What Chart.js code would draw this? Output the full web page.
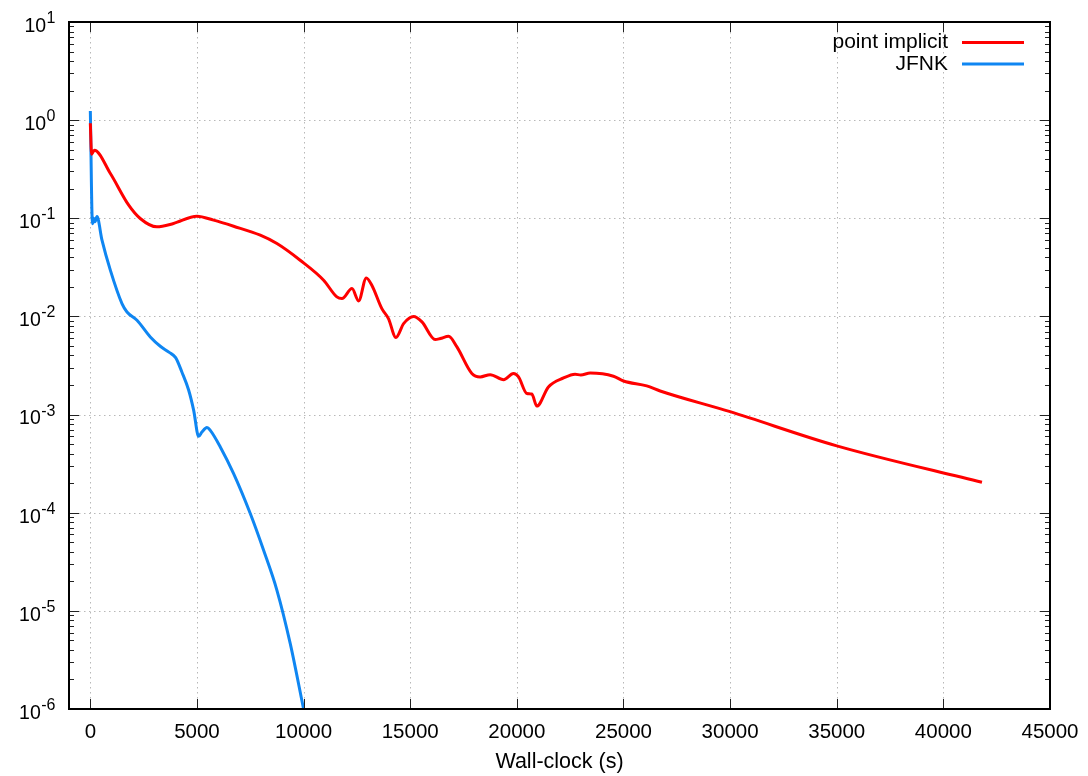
<!DOCTYPE html>
<html>
<head>
<meta charset="utf-8">
<script src="https://cdn.jsdelivr.net/npm/chart.js@4/dist/chart.umd.min.js"></script>
<style>
html,body{margin:0;padding:0;background:#fff;}
canvas{display:block;}
</style>
</head>
<body>
<canvas id="c" width="1088" height="776"></canvas>
<script>
// ---- data ----
const seriesNames = ["point implicit", "JFNK"];
const redX = [0, 60, 190, 940, 1800, 2340, 3120, 3900, 5000, 5780, 6720, 7970, 8750, 9840, 10940, 11560, 11800, 12270, 12580, 12940, 13200, 13670, 13980, 14330, 14690, 15160, 15550, 16170, 16410, 16800, 17190, 17890, 18280, 18750, 19380, 19840, 20080, 20470, 20700, 20940, 21480, 22190, 22730, 23000, 23440, 24530, 25000, 26090, 26720, 30000, 35000, 41810];
const redY = [0.93, 0.45, 0.494, 0.286, 0.136, 0.0995, 0.0818, 0.0885, 0.105, 0.0957, 0.083, 0.0673, 0.0553, 0.0374, 0.0234, 0.0158, 0.0152, 0.0192, 0.0144, 0.0247, 0.0208, 0.0120, 0.0095, 0.0061, 0.00846, 0.0100, 0.00879, 0.00581, 0.00595, 0.00628, 0.00489, 0.00262, 0.00242, 0.00255, 0.00227, 0.00262, 0.00242, 0.00164, 0.00162, 0.00122, 0.00191, 0.00236, 0.00258, 0.00253, 0.00265, 0.00246, 0.0022, 0.00196, 0.00174, 0.00107, 0.00048, 0.000204];
const blueX = [0, 100, 160, 220, 312, 547, 938, 1484, 1719, 2188, 2812, 3281, 3700, 4000, 4297, 4609, 4844, 5078, 5234, 5469, 5625, 6094, 6719, 7500, 8125, 8750, 9375, 10000];
const blueY = [1.24, 0.088, 0.1, 0.092, 0.104, 0.0598, 0.0296, 0.0135, 0.0111, 0.00914, 0.00618, 0.00497, 0.0043, 0.0038, 0.0027, 0.00178, 0.00111, 0.0006, 0.000665, 0.000737, 0.00069, 0.000468, 0.00025, 0.000098, 0.0000414, 0.0000162, 0.00000463, 0.000001];
const xTicks = [0, 5000, 10000, 15000, 20000, 25000, 30000, 35000, 40000, 45000];
const yExponents = [1, 0, -1, -2, -3, -4, -5, -6];
const xTitle = "Wall-clock (s)";
const colors = ["#ff0000", "#0f86f2"];

const FONT = '"Liberation Sans", Arial, Helvetica, sans-serif';

function pts(xs, ys){ return xs.map((x,i)=>({x:x, y:ys[i]})); }

const decor = {
  id: 'decor',
  beforeDatasetsDraw(chart){
    const {ctx, chartArea:a, scales:{x, y}} = chart;
    ctx.save();
    ctx.strokeStyle = '#b8b8b8';
    ctx.lineWidth = 1;
    ctx.setLineDash([1.5, 3.5]);
    xTicks.forEach(v=>{
      const px = Math.round(x.getPixelForValue(v)) + 0.5;
      if (px < a.left + 2 || px > a.right - 2) return;
      ctx.beginPath(); ctx.moveTo(px, a.top); ctx.lineTo(px, a.bottom); ctx.stroke();
    });
    yExponents.forEach(e=>{
      const py = Math.round(y.getPixelForValue(Math.pow(10,e))) + 0.5;
      if (py < a.top + 2 || py > a.bottom - 2) return;
      ctx.beginPath(); ctx.moveTo(a.left, py); ctx.lineTo(a.right, py); ctx.stroke();
    });
    ctx.restore();
  },
  afterDatasetsDraw(chart){
    const {ctx, chartArea:a, scales:{x, y}} = chart;
    ctx.save();
    ctx.setLineDash([]);
    // ticks
    ctx.strokeStyle = '#222';
    ctx.lineWidth = 1;
    xTicks.forEach(v=>{
      const px = Math.round(x.getPixelForValue(v)) + 0.5;
      ctx.beginPath();
      ctx.moveTo(px, a.bottom); ctx.lineTo(px, a.bottom - 10);
      ctx.moveTo(px, a.top); ctx.lineTo(px, a.top + 10);
      ctx.stroke();
    });
    for (let e = -6; e <= 1; e++){
      for (let m = 1; m <= 9; m++){
        const v = m * Math.pow(10, e);
        if (v > 10.0001) continue;
        const py = Math.round(y.getPixelForValue(v)) + 0.5;
        const len = (m === 1) ? 10 : 5;
        ctx.beginPath();
        ctx.moveTo(a.left, py); ctx.lineTo(a.left + len, py);
        ctx.moveTo(a.right, py); ctx.lineTo(a.right - len, py);
        ctx.stroke();
      }
    }
    // border
    ctx.strokeStyle = '#000';
    ctx.lineWidth = 2;
    ctx.strokeRect(a.left, a.top, a.right - a.left, a.bottom - a.top);

    // x tick labels
    ctx.fillStyle = '#000';
    ctx.font = '20.5px ' + FONT;
    ctx.textAlign = 'center';
    ctx.textBaseline = 'middle';
    xTicks.forEach(v=>{
      ctx.fillText(String(v), x.getPixelForValue(v), a.bottom + 23);
    });
    // y tick labels with superscripts
    yExponents.forEach(e=>{
      const py = y.getPixelForValue(Math.pow(10,e));
      const base = '10';
      const sup = String(e);
      ctx.font = '16px ' + FONT;
      const supW = ctx.measureText(sup).width;
      ctx.font = '19.5px ' + FONT;
      const baseW = ctx.measureText(base).width;
      const right = 55;
      const bx = right - supW - baseW;
      ctx.textAlign = 'left';
      ctx.textBaseline = 'alphabetic';
      ctx.fillText(base, bx, py + 9.8);
      ctx.font = '16px ' + FONT;
      ctx.fillText(sup, bx + baseW + 0.5, py + 1);
    });
    // x axis title
    ctx.font = '21.5px ' + FONT;
    ctx.textAlign = 'center';
    ctx.textBaseline = 'middle';
    ctx.fillText(xTitle, (a.left + a.right) / 2, 762);

    // legend
    const ly = [42.5, 64];
    seriesNames.forEach((n,i)=>{
      ctx.font = '21px ' + FONT;
      ctx.textAlign = 'right';
      ctx.textBaseline = 'middle';
      ctx.fillStyle = '#000';
      ctx.fillText(n, 948, ly[i]);
      ctx.strokeStyle = colors[i];
      ctx.lineWidth = 3;
      ctx.beginPath(); ctx.moveTo(962, ly[i]); ctx.lineTo(1024, ly[i]); ctx.stroke();
    });
    ctx.restore();
  }
};

new Chart(document.getElementById('c'), {
  type: 'line',
  data: {
    datasets: [
      { label: seriesNames[0], data: pts(redX, redY), borderColor: colors[0], borderWidth: 3, pointRadius: 0, fill: false, cubicInterpolationMode: 'monotone' },
      { label: seriesNames[1], data: pts(blueX, blueY), borderColor: colors[1], borderWidth: 3, pointRadius: 0, fill: false, cubicInterpolationMode: 'monotone' }
    ]
  },
  options: {
    responsive: false,
    animation: false,
    events: [],
    layout: { padding: { left: 69, top: 22, right: 38, bottom: 67 } },
    plugins: { legend: { display: false }, tooltip: { enabled: false } },
    scales: {
      x: { type: 'linear', min: -1000, max: 45000, display: false },
      y: { type: 'logarithmic', min: 1e-6, max: 10, display: false }
    }
  },
  plugins: [decor]
});
</script>
</body>
</html>
